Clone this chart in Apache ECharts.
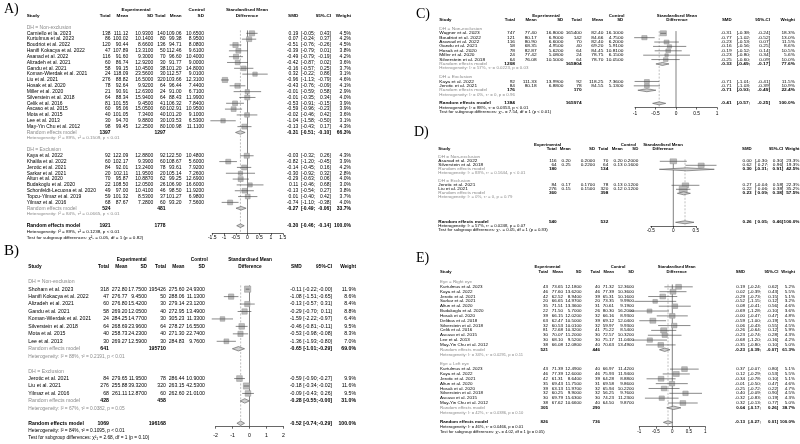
<!DOCTYPE html>
<html><head><meta charset="utf-8">
<script src="https://cdn.jsdelivr.net/npm/echarts@6/dist/echarts.min.js"></script>
<style>html,body{margin:0;padding:0;background:#fff}#c{width:800px;height:444px}</style>
</head><body><div id="c"></div>
<script>
// ---------------- DATA ----------------
// Panel A
const A_groups = ['DH = Non-exclusion','DH = Exclusion'];
const A_study = ['Carniello et la. 2023','Kurtulmus et al. 2023','Boudriot et al. 2022','Hanifi Kokacya et al. 2022','Asanad et al. 2022','Alizadeh et al. 2021','Gandu et al. 2021','Koman-Wierdak et al. 2021','Liu et al. 2021','Hosak et al. 2020','Miller et al. 2020','Silverstein et al. 2018','Celik et al. 2016','Ascaso et al. 2015','Mota et al. 2015','Lee et al. 2013','May-Yin Chu et al. 2012','Kaya et al. 2022','Khalila et al. 2022','Jerotic et al. 2021','Sarkar et al. 2021','Altun et al. 2020','Budakoglu et al. 2020','Schonfeldt-Lecuona et al. 2020','Topcu-Yilmaz et al. 2019','Yilmaz et al. 2016'];
const A_group = [0,0,0,0,0,0,0,0,0,0,0,0,0,0,0,0,0,1,1,1,1,1,1,1,1,1];
const A_eN = [138,86,120,47,116,60,58,24,276,78,21,64,81,60,40,30,98,92,60,84,20,70,22,49,59,68];
const A_eMean = [111.12,100.02,90.44,107.89,91.60,86.74,99.15,118.09,88.82,92.64,90.91,88.34,101.55,95.06,101.05,94.70,99.45,122.09,102.17,92.01,102.11,95.87,108.50,97.00,101.32,87.67];
const A_eSD = [10.93,10.14,8.66,13.31,9.30,12.92,10.45,23.56,16.50,9.92,12.63,15.94,9.45,15.05,7.34,9.88,12.25,12.88,9.39,13.24,11.95,10.887,12.05,10.41,8.53,7.28];
const A_cN = [140,80,136,50,70,30,38,30,320,64,24,64,41,60,40,30,80,92,60,78,20,62,26,46,37,60];
const A_cMean = [109.06,99.38,94.71,112.46,96.60,91.77,101.20,112.57,103.66,96.44,91.00,88.43,106.32,102.91,101.20,103.53,100.98,122.50,108.67,93.61,105.14,99.25,106.90,98.50,101.27,93.20];
const A_cSD = [10.65,8.95,8.08,9.61,10.40,9.00,14.80,9.01,12.31,7.44,6.71,11.99,7.84,10.95,9.10,6.53,11.11,10.48,5.60,7.92,7.26,12.69,16.60,11.92,6.98,7.56];
const A_smd = [0.19,0.07,-0.51,-0.39,-0.49,-0.42,-0.16,0.32,-0.96,-0.43,-0.01,-0.01,-0.53,-0.59,-0.02,-1.04,-0.13,-0.03,-0.82,-0.14,-0.30,-0.29,0.11,-0.13,0.01,-0.74];
const A_lo = [-0.05,-0.24,-0.76,-0.79,-0.79,-0.87,-0.57,-0.22,-1.13,-0.76,-0.59,-0.35,-0.91,-0.96,-0.46,-1.58,-0.43,-0.32,-1.20,-0.45,-0.92,-0.63,-0.46,-0.54,-0.40,-1.10];
const A_hi = [0.43,0.37,-0.26,0.01,-0.19,0.02,0.25,0.86,-0.79,-0.09,0.58,0.34,-0.15,-0.23,0.42,-0.50,0.17,0.26,-0.45,0.16,0.32,0.06,0.68,0.27,0.42,-0.38];
const A_w = [4.5,4.2,4.5,3.8,4.2,3.6,3.7,3.1,4.6,4.1,2.9,4.0,3.9,3.9,3.6,3.1,4.3,4.3,3.9,4.2,2.8,4.0,3.0,3.8,3.7,4.0];
const A_subEN = [1397,524], A_subCN = [1297,481], A_subSmd = [-0.31,-0.27], A_subLo = [-0.51,-0.49], A_subHi = [-0.10,-0.06], A_subW = [66.3,33.7];
const A_subHet = ['I\u00b2 = 89%, \u03c4\u00b2 = 0.1509, p < 0.01','I\u00b2 = 84%, \u03c4\u00b2 = 0.0665, p < 0.01'];
const A_ov = [1921,1778,-0.30,-0.46,-0.14,100.0];
const A_ovHet = 'I\u00b2 = 89%, \u03c4\u00b2 = 0.1238, p < 0.01';
const A_test = '\u03c7\u00b2\u2081 = 0.05, df = 1 (p = 0.82)';

// Panel B
const B_groups = ['DH = Non-exclusion','DH = Exclusion'];
const B_study = ['Shoham et al. 2023','Hanifi Kokacya et al. 2022','Alizadeh et al. 2021','Gandu et al. 2021','Koman-Wierdak et al. 2021','Silverstein et al. 2018','Mota et al. 2015','Lee et al. 2013','Jerotic et al. 2021','Liu et al. 2021','Yilmaz et al. 2016'];
const B_group = [0,0,0,0,0,0,0,0,1,1,1];
const B_eN = [318,47,60,58,24,64,40,30,84,276,68];
const B_eMean = [272.80,276.77,276.80,269.20,284.25,268.69,258.73,269.27,279.65,255.88,261.11];
const B_eSD = [17.75,9.45,15.42,12.05,14.77,23.96,24.23,12.59,11.95,39.32,12.87];
const B_cN = [195426,50,30,40,30,64,40,30,78,320,60];
const B_cMean = [275.60,288.06,279.14,272.95,305.23,278.27,271.30,284.83,286.44,263.15,262.60];
const B_cSD = [24.93,11.13,23.12,13.49,11.33,16.55,22.74,9.76,10.90,42.53,21.01];
const B_smd = [-0.11,-1.08,-0.13,-0.29,-1.59,-0.46,-0.53,-1.36,-0.59,-0.18,-0.09];
const B_lo = [-0.22,-1.51,-0.57,-0.70,-2.22,-0.81,-0.98,-1.93,-0.90,-0.34,-0.43];
const B_hi = [-0,-0.65,0.31,0.11,-0.97,-0.11,-0.08,-0.80,-0.27,-0.02,0.26];
const B_w = [11.9,8.6,8.4,8.8,6.4,9.5,8.3,7.0,9.9,11.6,9.5];
const B_subEN = [641,428], B_subCN = [195710,458], B_subSmd = [-0.65,-0.28], B_subLo = [-1.01,-0.55], B_subHi = [-0.29,-0], B_subW = [69.0,31.0];
const B_subHet = ['I\u00b2 = 88%, \u03c4\u00b2 = 0.2191, p < 0.01','I\u00b2 = 67%, \u03c4\u00b2 = 0.0382, p = 0.05'];
const B_ov = [1069,196168,-0.52,-0.74,-0.29,100.0];
const B_ovHet = 'I\u00b2 = 84%, \u03c4\u00b2 = 0.1095, p < 0.01';
const B_test = '\u03c7\u00b2\u2081 = 2.68, df = 1 (p = 0.10)';

// Panel C
const C_groups = ['DH = Non-exclusion','DH = Exclusion'];
const C_study = ['Wagner et al. 2023','Boudriot et al. 2022','Asanad et al. 2022','Gandu et al. 2021','Hosak et al. 2020','Miller et al. 2020','Silverstein et al. 2018','Kaya et al. 2022','Jerotic et al. 2021'];
const C_group = [0,0,0,0,0,0,0,1,1];
const C_eN = [747,121,116,58,78,24,64,92,84];
const C_eMean = [77.40,80.17,80.90,68.35,82.87,77.42,76.08,111.33,80.18];
const C_eSD = [16.80,6.90,6.60,4.95,5.62,5.08,10.50,13.99,6.88];
const C_cN = [165400,142,70,40,64,24,64,92,78];
const C_cMean = [82.40,84.66,82.40,69.20,84.45,78.75,78.70,118.25,84.55];
const C_cSD = [16.10,4.75,6.20,5.91,10.81,6.15,10.05,7.36,5.13];
const C_smd = [-0.31,-0.77,-0.23,-0.16,-0.19,-0.23,-0.25,-0.71,-0.71];
const C_lo = [-0.38,-1.02,-0.53,-0.56,-0.52,-0.80,-0.60,-1.01,-1.03];
const C_hi = [-0.24,-0.52,0.07,0.25,0.14,0.34,0.09,-0.41,-0.39];
const C_w = [18.3,13.0,11.5,8.6,10.5,5.6,10.0,11.5,10.9];
const C_subEN = [1208,176], C_subCN = [165804,170], C_subSmd = [-0.33,-0.71], C_subLo = [-0.49,-0.93], C_subHi = [-0.17,-0.49], C_subW = [77.6,22.4];
const C_subHet = ['I\u00b2 = 57%, \u03c4\u00b2 = 0.0223, p = 0.03','I\u00b2 = 0%, \u03c4\u00b2 = 0, p = 0.96'];
const C_ov = [1384,165974,-0.41,-0.57,-0.25,100.0];
const C_ovHet = 'I\u00b2 = 88%, \u03c4\u00b2 = 0.0353, p < 0.01';
const C_test = '\u03c7\u00b2\u2081 = 7.54, df = 1 (p < 0.01)';

// Panel D
const D_groups = ['DH = Non-exclusion','DH = Exclusion'];
const D_study = ['Asanad et al. 2022','Silverstein et al. 2018','Jerotic et al. 2021','Liu et al. 2021'];
const D_group = [0,0,1,1];
const D_eN = [116,64,84,276];
const D_eMean = [0.20,0.25,0.17,0.15];
const D_eSD = [0.20,0.22,0.17,0.15];
const D_cN = [70,64,78,320];
const D_cMean = [0.20,0.13,0.13,0.12];
const D_cSD = [0.20,0.16,0.12,0.12];
const D_smd = [0.00,0.62,0.27,0.22];
const D_lo = [-0.30,0.27,-0.04,0.06];
const D_hi = [0.30,0.96,0.58,0.38];
const D_w = [23.3,19.3,22.3,35.2];
const D_subEN = [180,360], D_subCN = [134,398], D_subSmd = [0.30,0.23], D_subLo = [-0.31,0.09], D_subHi = [0.91,0.38], D_subW = [42.5,57.5];
const D_subHet = ['I\u00b2 = 88%, \u03c4\u00b2 = 0.1644, p < 0.01','I\u00b2 = 0%, \u03c4\u00b2 = 0, p = 0.79'];
const D_ov = [540,532,0.26,0.05,0.46,100.0];
const D_ovHet = 'I\u00b2 = 57%, \u03c4\u00b2 = 0.0248, p = 0.07';
const D_test = '\u03c7\u00b2\u2081 = 0.05, df = 1 (p = 0.83)';

// Panel E
const E_groups = ['Eye = Right eye','Eye = Left eye'];
const E_study = ['Kurtulmus et al. 2023','Kaya et al. 2022','Jerotic et al. 2021','Sarkar et al. 2021','Altun et al. 2020','Budakoglu et al. 2020','Hosak et al. 2020','Delibas et al. 2018','Silverstein et al. 2018','Celik et al. 2016','Ascaso et al. 2015','Lee et al. 2013','May-Yin Chu et al. 2012','Kurtulmus et al. 2023','Kaya et al. 2022','Jerotic et al. 2021','Altun et al. 2020','Hosak et al. 2020','Silverstein et al. 2018','Ascaso et al. 2015','May-Yin Chu et al. 2012'];
const E_group = [0,0,0,0,0,0,0,0,0,0,0,0,0,1,1,1,1,1,1,1,1];
const E_eN = [43,46,42,20,35,22,39,63,32,81,30,30,38,43,46,42,35,39,32,30,38];
const E_eMean = [73.65,77.60,62.52,66.65,71.51,71.50,66.15,62.47,60.53,72.68,70.07,68.10,66.08,71.39,77.39,61.31,69.43,63.13,60.25,69.79,67.62];
const E_eSD = [12.18,13.62,8.94,14.97,13.36,5.70,12.02,10.50,10.01,10.32,11.20,9.52,12.08,12.49,12.60,8.64,11.75,11.97,9.90,15.63,10.66];
const E_cN = [40,46,39,20,31,26,32,39,32,41,30,30,40,40,46,39,31,32,32,30,40];
const E_cMean = [71.32,77.39,65.31,73.35,70.61,80.30,66.16,69.12,59.97,75.22,72.57,75.17,70.63,66.97,75.93,64.28,69.58,65.94,56.25,74.23,64.50];
const E_cSD = [12.36,10.36,10.16,9.99,9.19,16.20,8.93,12.04,9.93,8.54,10.32,11.04,13.49,11.42,11.94,8.88,9.86,10.22,9.76,11.23,9.87];
const E_smd = [0.19,0.02,-0.29,-0.52,0.08,-0.69,-0,-0.59,0.06,-0.26,-0.23,-0.68,-0.35,0.37,0.12,-0.34,-0.01,-0.25,0.40,-0.32,0.32];
const E_lo = [-0.24,-0.39,-0.73,-1.15,-0.41,-1.28,-0.47,-1.00,-0.43,-0.64,-0.74,-1.20,-0.80,-0.07,-0.29,-0.78,-0.50,-0.72,-0.09,-0.83,-0.13];
const E_hi = [0.62,0.43,0.15,0.12,0.56,-0.10,0.47,-0.19,0.55,0.12,0.28,-0.16,0.10,0.80,0.53,0.10,0.47,0.22,0.90,0.19,0.77];
const E_w = [5.2,5.5,5.1,3.2,4.6,3.6,4.8,5.5,4.5,5.9,4.3,4.2,5.0,5.1,5.5,5.1,4.6,4.7,4.5,4.3,5.0];
const E_subEN = [521,305], E_subCN = [446,290], E_subSmd = [-0.23,0.04], E_subLo = [-0.39,-0.17], E_subHi = [-0.07,0.26], E_subW = [61.3,38.7];
const E_subHet = ['I\u00b2 = 34%, \u03c4\u00b2 = 0.0291, p = 0.11','I\u00b2 = 42%, \u03c4\u00b2 = 0.0386, p = 0.10'];
const E_ov = [826,736,-0.13,-0.27,0.01,100.0];
const E_ovHet = 'I\u00b2 = 46%, \u03c4\u00b2 = 0.0466, p = 0.01';
const E_test = '\u03c7\u00b2\u2081 = 4.02, df = 1 (p = 0.05)';

const panelLetters = ['A)','B)','C)','D)','E)'];

// ---------------- LAYOUT ----------------
const FONT = '"Liberation Sans", Arial, Helvetica, sans-serif';
const SERIF = '"Liberation Serif", "Times New Roman", serif';
const LAYOUT = [
 {y0:27.5, s:5.83, axisY:233.3, fs:5, sy:0.95, studyX:26.7, cols:[110.5,128.3,153.3,165.5,181.5,204], expHdr:136, ctlHdr:196.7, hdrC:247, zero:247.5, unit:23.5, xmin:-1.5, xmax:1.5, step:0.5, smdR:298.3, ciB:301, ciMid:315.2, ciR:331, wR:351, box:2.5, diam:1.8, labM:2.2, gap:0, lx:4, ly:2, lfs:14},
 {y0:281.7, s:7.45, axisY:426.7, fs:5.2, sy:1, studyX:28.3, cols:[109,127.5,147,166,184.5,205], expHdr:131.7, ctlHdr:199.3, hdrC:250, zero:249.5, unit:17, xmin:-2, xmax:2, step:1, smdR:301.7, ciB:303.3, ciMid:318, ciR:332, wR:356, box:1.8, diam:2.2, labM:6.5, gap:0, lx:4, ly:244, lfs:15},
 {y0:28.9, s:4.38, axisY:107.5, fs:4.8, sy:0.8, studyX:439.3, cols:[515,536.7,563.3,581.7,603.3,623.3], expHdr:546, ctlHdr:616.7, hdrC:677, zero:676, unit:41, xmin:-1, xmax:1, step:0.5, smdR:731.7, ciB:736.7, ciMid:750.3, ciR:770, wR:795, box:1.45, diam:1.5, labM:3.4, gap:0, lx:416, ly:7, lfs:14},
 {y0:157.3, s:4.0, axisY:226, fs:4.7, sy:0.75, studyX:438.3, cols:[556.7,570.7,595,608.3,622.7,638.3], expHdr:547.5, ctlHdr:628.3, hdrC:663, zero:673.3, unit:45, xmin:-0.5, xmax:0.5, step:0.5, smdR:751.7, ciB:755, ciMid:768.3, ciR:783.3, wR:799.5, box:1.35, diam:1.5, labM:2.5, gap:4.25, lx:414, ly:125, lfs:14},
 {y0:282, s:4.84, axisY:426.7, fs:4.5, sy:0.85, studyX:440, cols:[548,563,581.5,600,614,634], expHdr:547.5, ctlHdr:618, hdrC:676.7, zero:672.3, unit:33, xmin:-1, xmax:1, step:0.5, smdR:745, ciB:748.3, ciMid:761, ciR:778.3, wR:795, box:2.5, diam:1.7, labM:3, gap:0, lx:416, ly:251, lfs:14}
];

const PANELS = [
 {groups:A_groups,study:A_study,group:A_group,eN:A_eN,eMean:A_eMean,eSD:A_eSD,cN:A_cN,cMean:A_cMean,cSD:A_cSD,smd:A_smd,lo:A_lo,hi:A_hi,w:A_w,subEN:A_subEN,subCN:A_subCN,subSmd:A_subSmd,subLo:A_subLo,subHi:A_subHi,subW:A_subW,subHet:A_subHet,ov:A_ov,ovHet:A_ovHet,test:A_test},
 {groups:B_groups,study:B_study,group:B_group,eN:B_eN,eMean:B_eMean,eSD:B_eSD,cN:B_cN,cMean:B_cMean,cSD:B_cSD,smd:B_smd,lo:B_lo,hi:B_hi,w:B_w,subEN:B_subEN,subCN:B_subCN,subSmd:B_subSmd,subLo:B_subLo,subHi:B_subHi,subW:B_subW,subHet:B_subHet,ov:B_ov,ovHet:B_ovHet,test:B_test},
 {groups:C_groups,study:C_study,group:C_group,eN:C_eN,eMean:C_eMean,eSD:C_eSD,cN:C_cN,cMean:C_cMean,cSD:C_cSD,smd:C_smd,lo:C_lo,hi:C_hi,w:C_w,subEN:C_subEN,subCN:C_subCN,subSmd:C_subSmd,subLo:C_subLo,subHi:C_subHi,subW:C_subW,subHet:C_subHet,ov:C_ov,ovHet:C_ovHet,test:C_test},
 {groups:D_groups,study:D_study,group:D_group,eN:D_eN,eMean:D_eMean,eSD:D_eSD,cN:D_cN,cMean:D_cMean,cSD:D_cSD,smd:D_smd,lo:D_lo,hi:D_hi,w:D_w,subEN:D_subEN,subCN:D_subCN,subSmd:D_subSmd,subLo:D_subLo,subHi:D_subHi,subW:D_subW,subHet:D_subHet,ov:D_ov,ovHet:D_ovHet,test:D_test},
 {groups:E_groups,study:E_study,group:E_group,eN:E_eN,eMean:E_eMean,eSD:E_eSD,cN:E_cN,cMean:E_cMean,cSD:E_cSD,smd:E_smd,lo:E_lo,hi:E_hi,w:E_w,subEN:E_subEN,subCN:E_subCN,subSmd:E_subSmd,subLo:E_subLo,subHi:E_subHi,subW:E_subW,subHet:E_subHet,ov:E_ov,ovHet:E_ovHet,test:E_test}
];

function f2(v){ if (Object.is(v,-0) || (v < 0 && v > -0.005)) return '-0.00'; return v.toFixed(2); }
const GRAY = '#8a8a8a';

function build(P, L){
  const rows = [], marks = [];
  const c = L.cols;
  const B = 1;
  rows.push({y:-3, items:[{t:'Experimental',x:L.expHdr,a:'center',b:B,h:1},{t:'Control',x:L.ctlHdr,a:'center',b:B,h:1},{t:'Standardised Mean',x:L.hdrC,a:'center',b:B,h:1}]});
  rows.push({y:-2, items:[{t:'Study',x:L.studyX,a:'left',b:B,h:1},{t:'Total',x:c[0],a:'right',b:B,h:1},{t:'Mean',x:c[1],a:'right',b:B,h:1},{t:'SD',x:c[2],a:'right',b:B,h:1},
    {t:'Total',x:c[3],a:'right',b:B,h:1},{t:'Mean',x:c[4],a:'right',b:B,h:1},{t:'SD',x:c[5],a:'right',b:B,h:1},{t:'Difference',x:L.hdrC,a:'center',b:B,h:1},
    {t:'SMD',x:L.smdR,a:'right',b:B,h:1},{t:'95%-CI',x:L.ciR,a:'right',b:B,h:1},{t:'Weight',x:L.wR,a:'right',b:B,h:1}]});
  const res = (smd, lo, hi, w, b, col) => [
    {t:f2(smd),x:L.smdR,a:'right',b:b,c:col},{t:'[',x:L.ciB,a:'left',b:b,c:col},{t:f2(lo)+';',x:L.ciMid,a:'right',b:b,c:col},
    {t:f2(hi)+']',x:L.ciR,a:'right',b:b,c:col},{t:w.toFixed(1)+'%',x:L.wR,a:'right',b:b,c:col}];
  let y = 0;
  P.groups.forEach((gname, gi) => {
    rows.push({y, items:[{t:gname,x:L.studyX,a:'left',c:GRAY}]}); y++;
    P.study.forEach((s, i) => {
      if (P.group[i] !== gi) return;
      rows.push({y, items:[{t:s,x:L.studyX,a:'left'},
        {t:String(P.eN[i]),x:c[0],a:'right'},{t:P.eMean[i].toFixed(2),x:c[1],a:'right'},{t:P.eSD[i].toFixed(4),x:c[2],a:'right'},
        {t:String(P.cN[i]),x:c[3],a:'right'},{t:P.cMean[i].toFixed(2),x:c[4],a:'right'},{t:P.cSD[i].toFixed(4),x:c[5],a:'right'}
      ].concat(res(P.smd[i],P.lo[i],P.hi[i],P.w[i],0))});
      marks.push([P.smd[i], y, P.lo[i], P.hi[i], P.w[i], 0]);
      y++;
    });
    rows.push({y, items:[{t:'Random effects model',x:L.studyX,a:'left',c:GRAY},{t:String(P.subEN[gi]),x:c[0],a:'right',b:B},{t:String(P.subCN[gi]),x:c[3],a:'right',b:B}]
      .concat(res(P.subSmd[gi],P.subLo[gi],P.subHi[gi],P.subW[gi],B))});
    marks.push([P.subSmd[gi], y, P.subLo[gi], P.subHi[gi], P.subW[gi], 1]);
    y++;
    rows.push({y, items:[{t:'Heterogeneity: '+P.subHet[gi],x:L.studyX,a:'left',c:GRAY,sm:1}]}); y++;
    y++;
  });
  y += L.gap;
  const o = P.ov;
  rows.push({y, items:[{t:'Random effects model',x:L.studyX,a:'left',b:B},{t:String(o[0]),x:c[0],a:'right',b:B},{t:String(o[1]),x:c[3],a:'right',b:B}]
    .concat(res(o[2],o[3],o[4],o[5],B))});
  marks.push([o[2], y, o[3], o[4], o[5], 1]);
  y++;
  rows.push({y, items:[{t:'Heterogeneity: '+P.ovHet,x:L.studyX,a:'left',sm:1}]}); y++;
  rows.push({y, items:[{t:'Test for subgroup differences: '+P.test,x:L.studyX,a:'left',sm:1}]});
  return {rows, marks};
}

const option = {animation:false, backgroundColor:'#fff', title:[], grid:[], xAxis:[], yAxis:[], series:[]};

PANELS.forEach((P, i) => {
  const L = LAYOUT[i];
  const R = build(P, L);
  const left = L.zero + L.xmin * L.unit, width = (L.xmax - L.xmin) * L.unit;
  const top = L.y0 + 0.5 * L.s, height = L.axisY - top;
  const ymax = (L.axisY - L.y0) / L.s;
  option.title.push({text:panelLetters[i], left:L.lx, top:L.ly, padding:0, textStyle:{fontFamily:SERIF, fontSize:L.lfs, fontWeight:'normal', color:'#000'}});
  option.grid.push({left:left, top:top, width:width, height:height, containLabel:false, outerBoundsMode:'none', show:false});
  option.xAxis.push({type:'value', gridIndex:i, min:L.xmin, max:L.xmax, interval:L.step,
    axisLine:{show:true, onZero:false, lineStyle:{color:'#000', width:0.6}},
    axisTick:{show:true, length:2, lineStyle:{color:'#000', width:0.6}},
    axisLabel:{fontSize:L.fs, color:'#000', margin:L.labM, fontFamily:FONT, hideOverlap:false},
    splitLine:{show:false}});
  option.yAxis.push({type:'value', gridIndex:i, min:0.5, max:ymax, inverse:true, show:false, splitLine:{show:false}});
  // reference lines (no effect, overall effect)
  option.series.push({type:'line', xAxisIndex:i, yAxisIndex:i, data:[[0,0.5],[0,ymax]], symbol:'none', silent:true, z:1,
    lineStyle:{color:'#4a4a4a', width:0.7}});
  option.series.push({type:'line', xAxisIndex:i, yAxisIndex:i, data:[[P.ov[2],0.5],[P.ov[2],ymax]], symbol:'none', silent:true, z:1,
    lineStyle:{color:'#b0b0b0', width:0.8, type:[2,1.5]}});
  // squares, CI lines and diamonds
  option.series.push({type:'custom', xAxisIndex:i, yAxisIndex:i, data:R.marks, clip:false, silent:true, z:2,
    encode:{x:0, y:1},
    renderItem:function(params, api){
      const yv = api.value(1);
      const cpt = api.coord([api.value(0), yv]);
      const lp = api.coord([api.value(2), yv]);
      const hp = api.coord([api.value(3), yv]);
      if (api.value(5) === 0) {
        const side = L.box * Math.sqrt(api.value(4));
        const h = side * L.sy;
        return {type:'group', children:[
          {type:'rect', shape:{x:cpt[0]-side/2, y:cpt[1]-h/2, width:side, height:h}, style:{fill:'#bdbdbd', stroke:'#8f8f8f', lineWidth:0.5}},
          {type:'line', shape:{x1:lp[0], y1:cpt[1], x2:hp[0], y2:cpt[1]}, style:{stroke:'#3a3a3a', lineWidth:0.6}}
        ]};
      }
      const d = L.diam;
      return {type:'polygon', shape:{points:[[lp[0],cpt[1]],[cpt[0],cpt[1]-d],[hp[0],cpt[1]],[cpt[0],cpt[1]+d]]},
        style:{fill:'#cfcfcf', stroke:'#555', lineWidth:0.6}};
    }});
  // table text
  option.series.push({type:'custom', xAxisIndex:i, yAxisIndex:i, data:R.rows.map((r, k) => [L.xmin, r.y, k]), clip:false, silent:true, z:3,
    encode:{x:0, y:1},
    renderItem:function(params, api){
      const r = R.rows[api.value(2)];
      const py = api.coord([L.xmin, api.value(1)])[1];
      return {type:'group', children:r.items.map(it => ({type:'text', x:it.x, y:py, scaleY:L.sy, silent:true,
        style:{text:it.t, x:0, y:0, align:it.a, verticalAlign:'middle', fontFamily:FONT,
          fontSize:it.sm ? L.fs*0.92 : (it.h ? L.fs*0.92 : L.fs), fontWeight:it.b ? 'bold' : 'normal', fill:it.c || '#000'}}))};
    }});
});

const chart = echarts.init(document.getElementById('c'), null, {renderer:'canvas'});
chart.setOption(option);
</script>
</body></html>
